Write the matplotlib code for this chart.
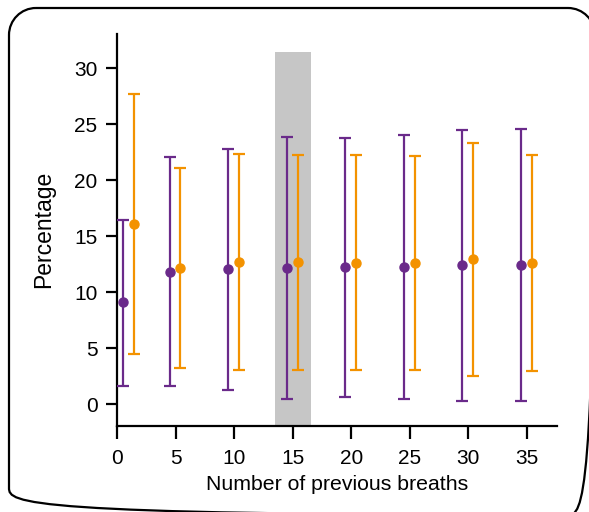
import matplotlib
matplotlib.use('Agg')
import matplotlib.pyplot as plt
from matplotlib.patches import PathPatch
from matplotlib.path import Path

plt.rcParams['font.family'] = ['Liberation Sans', 'DejaVu Sans']

breaths = [1, 5, 10, 15, 20, 25, 30, 35]
xtick_vals = [0, 5, 10, 15, 20, 25, 30, 35]
ytick_vals = [0, 5, 10, 15, 20, 25, 30]

purple_mid = [9.1, 11.85, 12.05, 12.17, 12.23, 12.29, 12.41, 12.41]
purple_hi = [16.5, 22.05, 22.8, 23.9, 23.8, 24.1, 24.5, 24.55]
purple_lo = [1.67, 1.64, 1.31, 0.5, 0.63, 0.45, 0.33, 0.27]

orange_mid = [16.1, 12.2, 12.7, 12.7, 12.65, 12.62, 12.95, 12.65]
orange_hi = [27.7, 21.15, 22.35, 22.3, 22.23, 22.14, 23.3, 22.29]
orange_lo = [4.46, 3.24, 3.07, 3.1, 3.04, 3.07, 2.56, 2.95]

purple = '#6a2a8a'
orange = '#f39200'

fig = plt.figure(figsize=(5.89, 5.12), dpi=100)
ax = fig.add_axes([0.1986, 0.1686, 0.7474, 0.7655])

# rounded frame in figure fractions, partly running off the right/bottom edge
W, H = 589.0, 512.0
L, R, B, T = 9 / W, 595 / W, -3 / H, 504 / H
rx, ry = 27 / W, 27 / H
kx, ky = 0.5523 * rx, 0.5523 * ry
verts = [(L + rx, T), (R - rx, T),
         (R - rx + kx, T), (R, T - ry + ky), (R, T - ry),
         (R, B + ry),
         (R, B + ry - ky), (R - rx + kx, B), (R - rx, B),
         (L + rx, B),
         (L + rx - kx, B), (L, B + ry - ky), (L, B + ry),
         (L, T - ry),
         (L, T - ry + ky), (L + rx - kx, T), (L + rx, T)]
codes = [Path.MOVETO, Path.LINETO,
         Path.CURVE4, Path.CURVE4, Path.CURVE4,
         Path.LINETO,
         Path.CURVE4, Path.CURVE4, Path.CURVE4,
         Path.LINETO,
         Path.CURVE4, Path.CURVE4, Path.CURVE4,
         Path.LINETO,
         Path.CURVE4, Path.CURVE4, Path.CURVE4]
frame = PathPatch(Path(verts, codes), transform=fig.transFigure,
                  fill=False, edgecolor='black', linewidth=1.6)
frame.set_clip_on(True)
frame.set_clip_box(fig.bbox)
fig.patches.append(frame)

ax.axvspan(13.5, 16.55, ymin=0, ymax=(31.5 + 1.9) / (33.1 + 1.9),
           color='#c6c6c6', lw=0, zorder=0)

xp = [b - 0.5 for b in breaths]
xo = [b + 0.42 for b in breaths]
perr = [[m - l for m, l in zip(purple_mid, purple_lo)],
        [h - m for m, h in zip(purple_mid, purple_hi)]]
oerr = [[m - l for m, l in zip(orange_mid, orange_lo)],
        [h - m for m, h in zip(orange_mid, orange_hi)]]

ax.errorbar(xp, purple_mid, yerr=perr, fmt='o', color=purple, ms=6.5,
            elinewidth=1.6, capsize=4.5, capthick=1.6, zorder=3)
ax.errorbar(xo, orange_mid, yerr=oerr, fmt='o', color=orange, ms=6.5,
            elinewidth=1.6, capsize=4.5, capthick=1.6, zorder=3)

ax.set_xlim(0, 37.6)
ax.set_ylim(-1.9, 33.1)
ax.set_xticks(xtick_vals)
ax.set_yticks(ytick_vals)
ax.spines['top'].set_visible(False)
ax.spines['right'].set_visible(False)
ax.spines['left'].set_linewidth(1.6)
ax.spines['bottom'].set_linewidth(1.6)
ax.tick_params(width=1.6, labelsize=15, direction='out')
ax.tick_params(axis='x', length=9.5, pad=7)
ax.tick_params(axis='y', length=8, pad=6)

ax.set_xlabel('Number of previous breaths', fontsize=15.3, labelpad=5)
ax.set_ylabel('Percentage', fontsize=16.5, labelpad=14)

fig.savefig('out.png', dpi=100)
